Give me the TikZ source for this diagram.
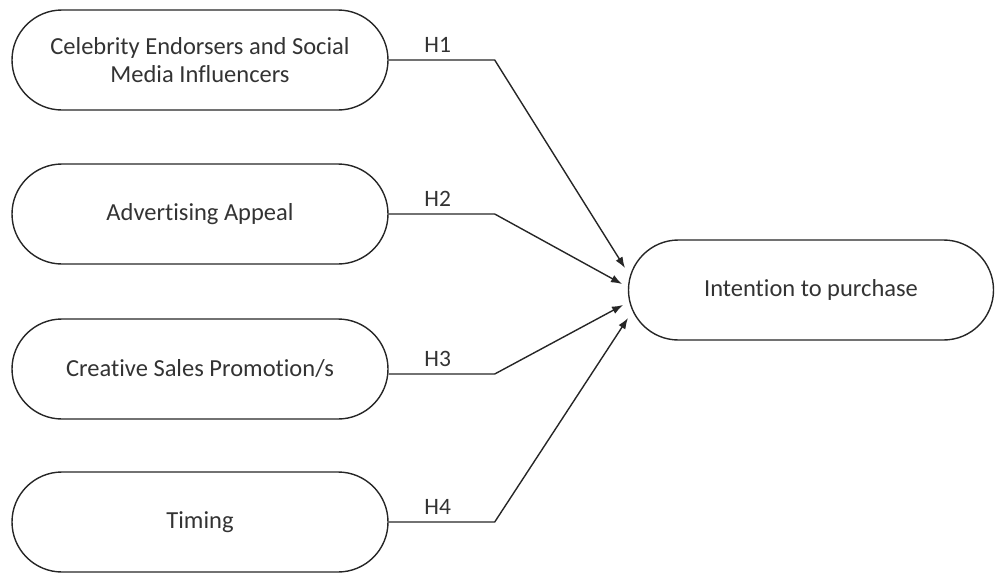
\documentclass[tikz,border=0pt]{standalone}
\usepackage{fontspec}
\setmainfont{Carlito}[Ligatures=NoCommon]
\usetikzlibrary{arrows.meta,positioning}

\begin{document}
\begin{tikzpicture}[
    x=1pt,y=-1pt,
    var/.style={draw=black!85,line width=1.4pt,rounded corners=50pt,align=center,
      minimum width=376pt,minimum height=100pt,inner sep=0pt,text=black!80,
      font=\fontsize{24.5}{28}\selectfont},
    hyp/.style={above=3pt,text=black!80,font=\fontsize{23.5}{26}\selectfont},
    link/.style={->,draw=black!85,line width=1.4pt},
    >={Latex[length=11pt,width=8pt]}]
    \useasboundingbox (0,0) rectangle (995,573);
    \node[var] (cel) at (200,60) {Celebrity Endorsers and Social\\Media Influencers};
    \node[var] (adv) at (200,214) {Advertising Appeal};
    \node[var] (csp) at (200,369) {Creative Sales Promotion/s};
    \node[var] (tim) at (200,522) {Timing};
    \node[var,minimum width=365pt] (ip) at (811,290) {Intention to purchase};

    % arrow tips on the left arc of ip
    \coordinate (t1) at (625,268);
    \coordinate (t2) at (622,284);
    \coordinate (t3) at (623,305);
    \coordinate (t4) at (628,318);

    \draw[link] (cel.east) -- node[hyp,xshift=-4pt] {H1} ++(106,0) -- (t1);
    \draw[link] (adv.east) -- node[hyp,xshift=-4pt] {H2} ++(106,0) -- (t2);
    \draw[link] (csp.east |- 0,374) -- node[hyp,xshift=-4pt] {H3} ++(106,0) -- (t3);
    \draw[link] (tim.east) -- node[hyp,xshift=-4pt] {H4} ++(106,0) -- (t4);
\end{tikzpicture}
\end{document}
